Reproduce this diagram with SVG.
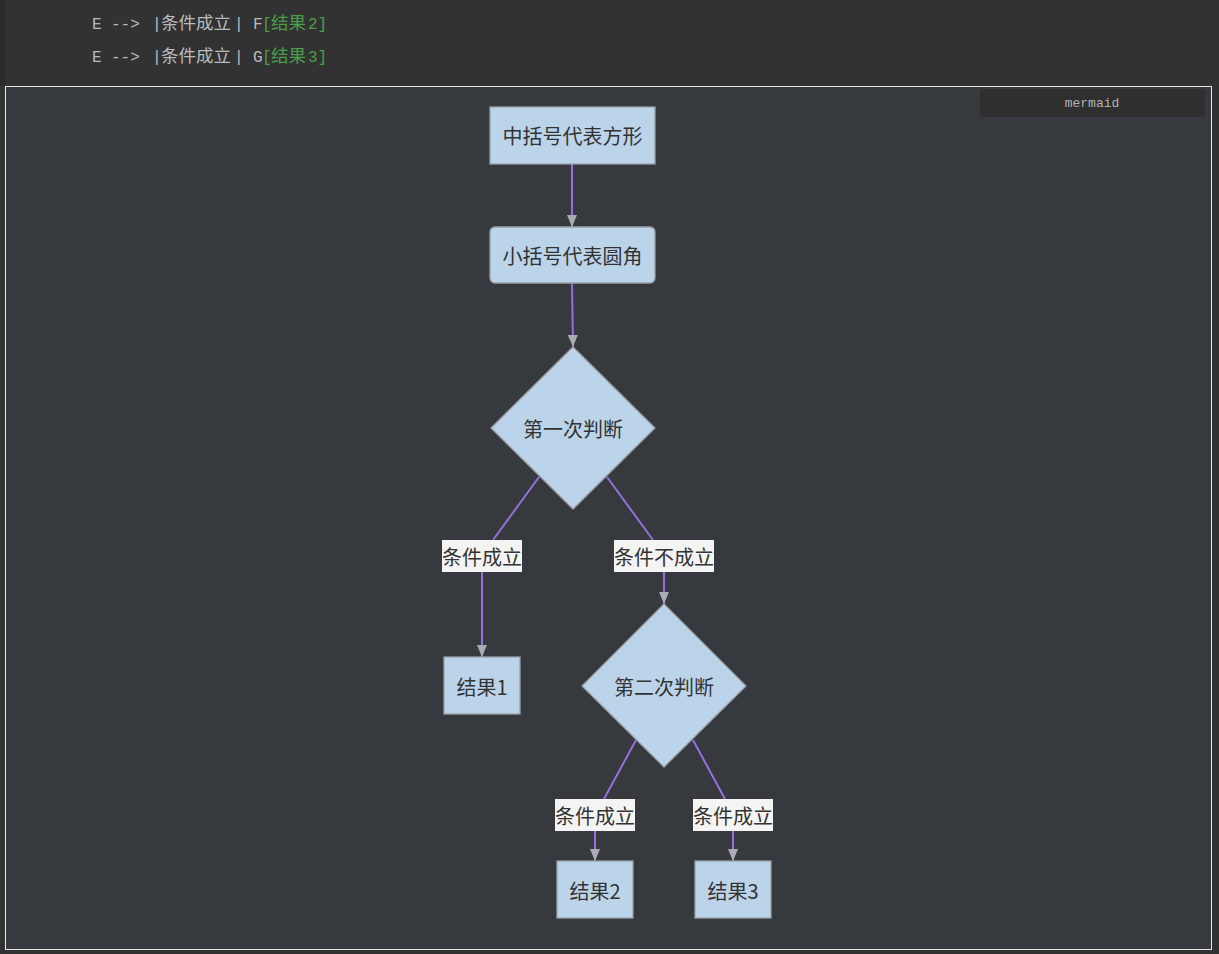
<svg xmlns="http://www.w3.org/2000/svg" width="1219" height="954" viewBox="0 0 1219 954">
<style>
.code{font-family:"Liberation Mono","DejaVu Sans Mono","Noto Sans CJK SC",monospace;font-size:16px;fill:#b9bcbf}
.cjk{font-family:"Noto Sans CJK SC",sans-serif;font-size:17.5px}
.g{fill:#4a9e4a}
.node{fill:#bcd4ea;stroke:#9aa0a6;stroke-width:1.3}
.nt{font-family:"Noto Sans CJK SC","Noto Sans",sans-serif;font-size:20px;fill:#333;text-anchor:middle;dominant-baseline:central}
.edge{fill:none;stroke:#9370db;stroke-width:2}
.lblbg{fill:#f4f4f4}
.lt{font-family:"Noto Sans CJK SC","Noto Sans",sans-serif;font-size:20px;fill:#333;text-anchor:middle;dominant-baseline:central}
</style>
<defs>
<marker id="arr" viewBox="0 0 12 10" refX="12" refY="5" markerWidth="12" markerHeight="10" markerUnits="userSpaceOnUse" orient="auto">
<path d="M0,0 L12,5 L0,10 z" fill="#a9adb3"/>
</marker>
</defs>
<rect x="0" y="0" width="1219" height="954" fill="#323232"/>
<rect x="0" y="0" width="5" height="86" fill="#2b2b2b"/>
<rect x="5.5" y="86.5" width="1206" height="863" fill="#363a3f" stroke="#e6e6e6" stroke-width="1"/>
<g id="code">
<text class="code" y="29"><tspan x="92">E</tspan><tspan x="111">--&gt;</tspan><tspan x="152">|</tspan><tspan x="161" class="cjk">条件成立</tspan><tspan x="234">|</tspan><tspan x="253">F</tspan><tspan x="262" class="g">[</tspan><tspan x="271" class="g cjk">结果</tspan><tspan x="308" class="g">2]</tspan></text>
<text class="code" y="62"><tspan x="92">E</tspan><tspan x="111">--&gt;</tspan><tspan x="152">|</tspan><tspan x="161" class="cjk">条件成立</tspan><tspan x="234">|</tspan><tspan x="253">G</tspan><tspan x="262" class="g">[</tspan><tspan x="271" class="g cjk">结果</tspan><tspan x="308" class="g">3]</tspan></text>
</g>
<g id="badge">
<rect x="980" y="89" width="225" height="28" rx="2" fill="#2f2f2f"/>
<text x="1092" y="103" font-family="Liberation Mono,DejaVu Sans Mono,monospace" font-size="13" fill="#b0b4b8" text-anchor="middle" dominant-baseline="central">mermaid</text>
</g>
<g id="edges">
<path class="edge" d="M572,164 L572,227" marker-end="url(#arr)"/>
<path class="edge" d="M572,283 L573,347" marker-end="url(#arr)"/>
<path class="edge" d="M539,477 L493,540"/>
<path class="edge" d="M482,572 L482,657" marker-end="url(#arr)"/>
<path class="edge" d="M607,477 L653,540"/>
<path class="edge" d="M664,572 L664,604" marker-end="url(#arr)"/>
<path class="edge" d="M636,740 L604,799"/>
<path class="edge" d="M595,830 L595,861" marker-end="url(#arr)"/>
<path class="edge" d="M693,740 L725,799"/>
<path class="edge" d="M733,830 L733,861" marker-end="url(#arr)"/>
<g id="labels">
<rect class="lblbg" x="442" y="540" width="80" height="32"/>
<text class="lt" x="482" y="556">条件成立</text>
<rect class="lblbg" x="614" y="540" width="100" height="32"/>
<text class="lt" x="664" y="556">条件不成立</text>
<rect class="lblbg" x="555" y="799" width="80" height="32"/>
<text class="lt" x="595" y="815">条件成立</text>
<rect class="lblbg" x="693" y="799" width="80" height="32"/>
<text class="lt" x="733" y="815">条件成立</text>
</g>
</g>
<g id="A">
<rect class="node" x="490" y="107" width="165" height="57"/>
<text class="nt" x="572.5" y="135">中括号代表方形</text>
</g>
<g id="B">
<rect class="node" x="490" y="227" width="165" height="56" rx="5"/>
<text class="nt" x="572.5" y="255">小括号代表圆角</text>
</g>
<g id="C">
<polygon class="node" points="573,347 655,428 573,509 491,428"/>
<text class="nt" x="573" y="428">第一次判断</text>
</g>
<g id="D">
<rect class="node" x="444" y="657" width="76" height="57"/>
<text class="nt" x="482" y="686">结果1</text>
</g>
<g id="E">
<polygon class="node" points="664,604 746,686 664,767 582,686"/>
<text class="nt" x="664" y="686">第二次判断</text>
</g>
<g id="F">
<rect class="node" x="557" y="861" width="76" height="57"/>
<text class="nt" x="595" y="890">结果2</text>
</g>
<g id="G">
<rect class="node" x="695" y="861" width="76" height="57"/>
<text class="nt" x="733" y="890">结果3</text>
</g>
</svg>
